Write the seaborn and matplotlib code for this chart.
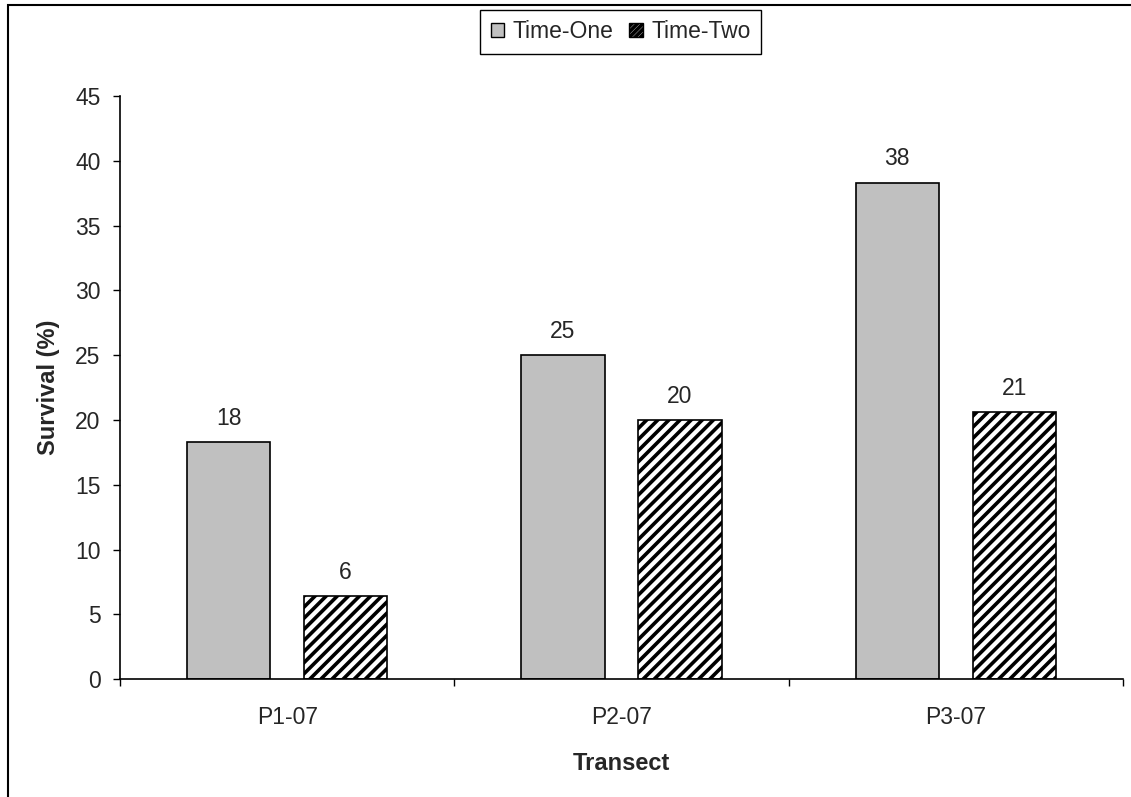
import matplotlib
matplotlib.use("Agg")
import matplotlib.pyplot as plt
from matplotlib.patches import Rectangle, Patch
import seaborn as sns
import pandas as pd

# ---- data ----
transects = ["P1-07", "P2-07", "P3-07"]
series_names = ["Time-One", "Time-Two"]
time_one = [18.3, 25.0, 38.3]
time_two = [6.4, 20.0, 20.6]
y_ticks = [0, 5, 10, 15, 20, 25, 30, 35, 40, 45]

df = pd.DataFrame({
    "Transect": transects * 2,
    "Time": [series_names[0]] * 3 + [series_names[1]] * 3,
    "Survival": time_one + time_two,
})

sns.set_style("ticks")
plt.rcParams["font.family"] = ["Liberation Sans", "DejaVu Sans"]
plt.rcParams["hatch.linewidth"] = 2.6
plt.rcParams["hatch.color"] = "black"

FS = 16.5
W, H = 1131, 797
fig = plt.figure(figsize=(W / 100, H / 100), dpi=100)
ax = fig.add_axes([120 / W, 1 - 679.3 / H, (1123 - 120) / W, (679.3 - 96) / H])

sns.barplot(data=df, x="Transect", y="Survival", hue="Time",
            palette=["#C0C0C0", "white"], edgecolor="black", linewidth=1.2,
            width=0.7, gap=0.2857, errorbar=None, legend=False, ax=ax)

for bar in ax.containers[1]:
    bar.set_hatch("///")
    bar.set_edgecolor("black")

for cont in ax.containers:
    ax.bar_label(cont, fmt="%.0f", padding=9, fontsize=FS)

ax.set_xlim(-0.5, 2.5)
ax.set_ylim(0, 45)
ax.set_yticks(y_ticks)
ax.set_yticklabels([str(t) for t in y_ticks], fontsize=FS)
ax.set_xticks(range(len(transects)))
ax.set_xticklabels(transects, fontsize=FS)
ax.set_xticks([-0.5, 0.5, 1.5, 2.5], minor=True)
ax.tick_params(axis="x", which="major", length=0, pad=19)
ax.tick_params(axis="x", which="minor", length=5, width=1, color="black", direction="out")
ax.tick_params(axis="y", which="major", length=5, width=1, color="black", direction="out", pad=9)

for s in ["top", "right"]:
    ax.spines[s].set_visible(False)
for s in ["left", "bottom"]:
    ax.spines[s].set_color("black")
    ax.spines[s].set_linewidth(1.2)

ax.set_xlabel("Transect", fontsize=17, fontweight="bold", labelpad=17)
ax.set_ylabel("Survival (%)", fontsize=17, fontweight="bold", labelpad=11)
ax.set_facecolor("white")

handles = [
    Patch(facecolor="#C0C0C0", edgecolor="black", linewidth=1.0),
    Patch(facecolor="white", edgecolor="black", linewidth=1.0, hatch="//////"),
]
fig.legend(handles, series_names, loc="center", bbox_to_anchor=(620.5 / W, 1 - 31.7 / H),
           ncol=2, fontsize=FS, frameon=True, fancybox=False, edgecolor="black",
           framealpha=1, handlelength=0.6, handleheight=0.6, handletextpad=0.35,
           columnspacing=0.7, borderpad=0.45, borderaxespad=0)
leg = fig.legends[0]
leg.get_frame().set_linewidth(1.0)

fig.add_artist(Rectangle((8 / W, -0.1), 1.2, (1 - 5 / H) + 0.1, transform=fig.transFigure,
                         fill=False, edgecolor="black", linewidth=1.5))

fig.savefig("out.png", dpi=100, facecolor="white")
